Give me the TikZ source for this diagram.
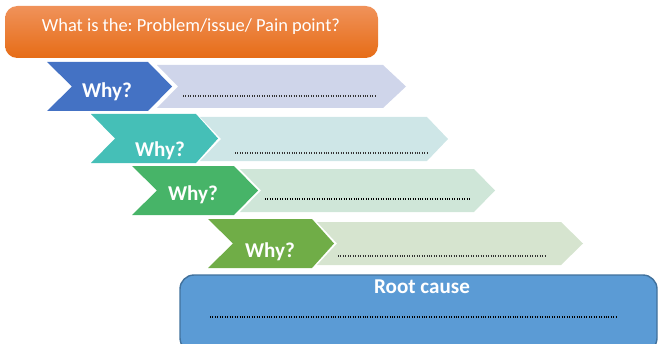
\documentclass[tikz,border=0pt]{standalone}
\usepackage{fontspec}
\setmainfont{Carlito}
\usepackage{tikz}
\usetikzlibrary{calc}
\frenchspacing

\definecolor{whyblue}{HTML}{4472C4}
\definecolor{paleblue}{HTML}{CFD5EA}
\definecolor{whyteal}{HTML}{45BFB7}
\definecolor{paleteal}{HTML}{CEE6E7}
\definecolor{whygreen}{HTML}{47B468}
\definecolor{palegreen}{HTML}{CFE6D8}
\definecolor{whyolive}{HTML}{70AD47}
\definecolor{paleolive}{HTML}{D6E4CF}
\definecolor{rootblue}{HTML}{5B9BD5}
\definecolor{rootedge}{HTML}{41719C}
\definecolor{probtop}{HTML}{F0925A}
\definecolor{probbot}{HTML}{E66C16}

\begin{document}
\begin{tikzpicture}[x=0.02cm, y=-0.02cm,
                whytext/.style={text=white,font=\fontsize{12}{14}\selectfont\bfseries},
                dots/.style={line width=0.6pt,dash pattern=on 0.5pt off 0.9pt,black!80},
                problem/.style={rounded corners=7,top color=probtop,bottom color=probbot,draw=none}
                ]
                \clip (0,0) rectangle (658,344);
                % problem box
                \shade [problem] (5,6) rectangle (378,58);
                \node [text=white,font=\fontsize{10.5}{12}\selectfont] (problem) at (191,27) {What is the: Problem/issue/ Pain point?};
                % why 1
                \fill [whyblue] (47,62) -- ++(101,0) -- ++(24,24.5) -- ++(-24,24.5) -- ++(-101,0) -- ++(25,-24.5) -- cycle;
                \fill [paleblue] (157,65) -- ++(226,0) -- ++(23,21.5) -- ++(-23,21.5) -- ++(-226,0) -- ++(21,-21.5) -- cycle;
                \node [whytext] (why1) at (107,92) {Why?};
                \draw [dots] (183,96) coordinate (a1) -- (376,96) coordinate (b1);
                % why 2
                \fill [whyteal] (91,114) -- ++(105,0) -- ++(22,24.5) -- ++(-22,24.5) -- ++(-105,0) -- ++(24,-24.5) -- cycle;
                \fill [paleteal] (200,117) -- ++(227,0) -- ++(21,22) -- ++(-21,22) -- ++(-227,0) -- ++(21,-22) -- cycle;
                \node [whytext] (why2) at (160,151) {Why?};
                \draw [dots] (235,153) coordinate (a2) -- (428,153) coordinate (b2);
                % why 3
                \fill [whygreen] (132,166) -- ++(102,0) -- ++(24,24.5) -- ++(-24,24.5) -- ++(-102,0) -- ++(25,-24.5) -- cycle;
                \fill [palegreen] (240,169) -- ++(234,0) -- ++(21,21.5) -- ++(-21,21.5) -- ++(-234,0) -- ++(21,-21.5) -- cycle;
                \node [whytext] (why3) at (193,195) {Why?};
                \draw [dots,line width=0.9pt,black] (265,199) coordinate (a3) -- (470,199) coordinate (b3);
                % why 4
                \fill [whyolive] (208,219) -- ++(104,0) -- ++(22,24.5) -- ++(-22,24.5) -- ++(-104,0) -- ++(25,-24.5) -- cycle;
                \fill [paleolive] (317,222) -- ++(244,0) -- ++(22,21.5) -- ++(-22,21.5) -- ++(-244,0) -- ++(20,-21.5) -- cycle;
                \node [whytext] (why4) at (270,252) {Why?};
                \draw [dots] (338,256) coordinate (a4) -- (547,256) coordinate (b4);
                % root cause
                \draw [rootedge,fill=rootblue,rounded corners=8,line width=0.8pt] (180,275) rectangle (657,352);
                \node [whytext] (root) at (422,287) {Root cause};
                \draw [dots,line width=0.9pt,black] (210,317) coordinate (a5) -- (618,317) coordinate (b5);
            \end{tikzpicture}
\end{document}
